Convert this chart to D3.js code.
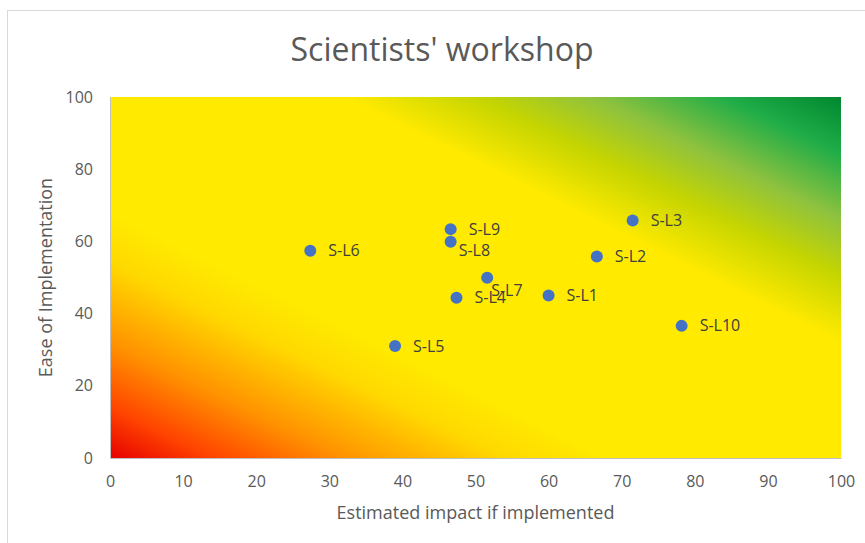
<!DOCTYPE html>
<html>
<head>
<meta charset="utf-8">
<script src="https://cdn.jsdelivr.net/npm/d3@7"></script>
<style>
  html, body { margin: 0; padding: 0; background: #fff; }
  svg { display: block; font-family: "Open Sans", sans-serif; }
</style>
</head>
<body>
<div id="chart"></div>
<script>
// Ideas scored at the scientists' workshop
var names  = ['S-L1', 'S-L2', 'S-L3', 'S-L4', 'S-L5', 'S-L6', 'S-L7', 'S-L8', 'S-L9', 'S-L10'];
var impact = [60, 66.6, 71.5, 47.4, 39, 27.4, 51.6, 46.6, 46.6, 78.2];
var ease   = [45, 55.8, 65.8, 44.4, 31, 57.4, 49.9, 59.9, 63.4, 36.6];

var xTicks = [0, 10, 20, 30, 40, 50, 60, 70, 80, 90, 100];
var yTicks = [0, 20, 40, 60, 80, 100];

var W = 865, H = 543;
var margin = { left: 110, right: 24, top: 97, bottom: 85 };

// red (hard, low impact) -> yellow -> green (easy, high impact)
var STOPS = [
  [0.00, '#e60000'], [0.07, '#ff4300'], [0.16, '#ff9200'],
  [0.27, '#ffd800'], [0.34, '#ffea00'], [0.66, '#ffea00'],
  [0.75, '#c6d500'], [0.83, '#8fc23e'], [0.92, '#20ad48'],
  [1.00, '#00872f']
];

var svg = d3.select('#chart').append('svg')
  .attr('width', W).attr('height', H);

// chart frame (right/bottom edges fall outside the picture)
svg.append('rect')
  .attr('x', 7.5).attr('y', 10.5)
  .attr('width', W).attr('height', H)
  .attr('fill', 'none').attr('stroke', '#d9d9d9');

var x = d3.scaleLinear().domain([0, 100]).range([margin.left, W - margin.right]);
var y = d3.scaleLinear().domain([0, 100]).range([H - margin.bottom, margin.top]);

var grad = svg.append('defs').append('linearGradient')
  .attr('id', 'bg')
  .attr('x1', 0).attr('y1', 1).attr('x2', 1).attr('y2', 0);
STOPS.forEach(function (s) {
  grad.append('stop').attr('offset', s[0]).attr('stop-color', s[1]);
});

svg.append('rect')
  .attr('x', x(0)).attr('y', y(100))
  .attr('width', x(100) - x(0)).attr('height', y(0) - y(100))
  .attr('fill', 'url(#bg)');

// axes
var xAxis = svg.append('g')
  .attr('transform', 'translate(0,' + y(0) + ')')
  .call(d3.axisBottom(x).tickValues(xTicks).tickSize(0).tickPadding(18));
var yAxis = svg.append('g')
  .attr('transform', 'translate(' + x(0) + ',0)')
  .call(d3.axisLeft(y).tickValues(yTicks).tickSize(0).tickPadding(17));
[xAxis, yAxis].forEach(function (a) {
  a.select('.domain').attr('stroke', '#bfbfbf');
  a.selectAll('text')
    .attr('fill', '#595959')
    .style('font-size', '16px')
    .style('font-family', '"Open Sans", sans-serif');
});

// title + axis titles
svg.append('text')
  .attr('x', 442).attr('y', 61)
  .attr('text-anchor', 'middle')
  .attr('fill', '#595959')
  .style('font-size', '32px')
  .text("Scientists' workshop");

svg.append('text')
  .attr('x', (x(0) + x(100)) / 2).attr('y', 519)
  .attr('text-anchor', 'middle')
  .attr('fill', '#595959')
  .style('font-size', '18px')
  .text('Estimated impact if implemented');

svg.append('text')
  .attr('transform', 'translate(52,' + (y(0) + y(100)) / 2 + ') rotate(-90)')
  .attr('text-anchor', 'middle')
  .attr('fill', '#595959')
  .style('font-size', '18px')
  .text('Ease of Implementation');

// points
var pts = names.map(function (n, i) { return { name: n, x: impact[i], y: ease[i] }; });

svg.append('g').selectAll('circle')
  .data(pts).enter().append('circle')
  .attr('cx', function (d) { return x(d.x); })
  .attr('cy', function (d) { return y(d.y); })
  .attr('r', 6)
  .attr('fill', '#4472c4');

// a couple of labels got nudged in the original so they don't collide
var nudge = { 'S-L7': [4, 13], 'S-L8': [8, 9] };
svg.append('g').selectAll('text')
  .data(pts).enter().append('text')
  .attr('x', function (d) { return x(d.x) + (nudge[d.name] ? nudge[d.name][0] : 18); })
  .attr('y', function (d) { return y(d.y) + (nudge[d.name] ? nudge[d.name][1] : 0); })
  .attr('dy', '0.35em')
  .attr('fill', '#404040')
  .style('font-size', '16px')
  .text(function (d) { return d.name; });
</script>
</body>
</html>
